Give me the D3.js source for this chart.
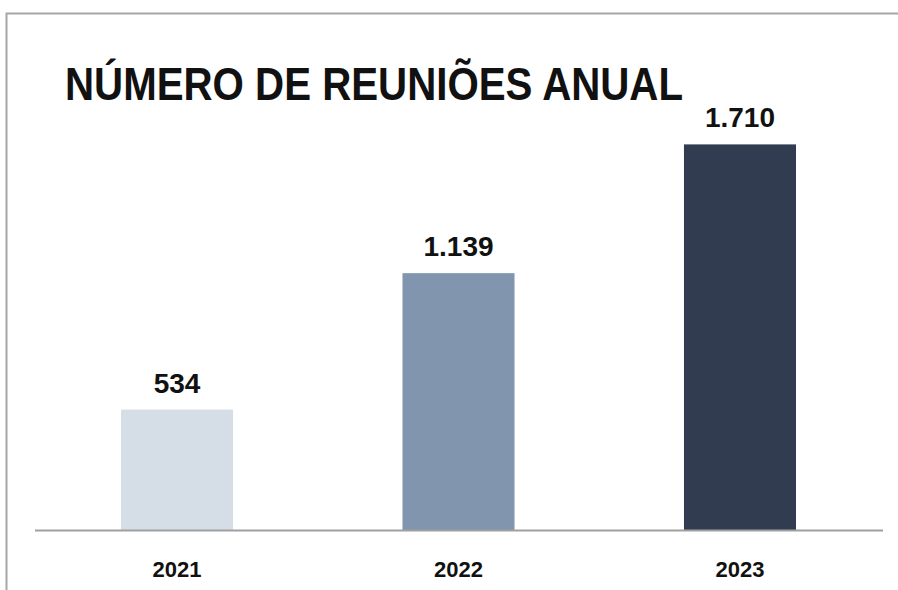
<!DOCTYPE html>
<meta charset="utf-8">
<style>
  body { margin: 0; background: #fff; }
  text { font-family: "Liberation Sans", Arial, sans-serif; font-weight: bold; fill: #111; }
</style>
<body>
<script src="https://d3js.org/d3.v7.min.js"></script>
<script>

  var years = ["2021", "2022", "2023"];
  var meetings = [534, 1139, 1710];
  var labels = ["534", "1.139", "1.710"];
  var colors = ["#d5dde6", "#8295ae", "#313c50"];

  var width = 898,
      height = 590;

  var svg = d3.select("body").append("svg")
      .attr("width", width)
      .attr("height", height);

  // frame (top and left edges visible)
  svg.append("path")
      .attr("d", "M6.5,590V13.5H898")
      .attr("fill", "none")
      .attr("stroke", "#a6a6a6")
      .attr("stroke-width", 2);

  var x = d3.scaleBand()
      .domain(years)
      .range([36, 881])
      .paddingInner(0.602)
      .paddingOuter(0.302);

  var y = d3.scaleLinear()
      .domain([0, 1900])
      .range([530, 530 - 1900 * 0.2255]);

  svg.selectAll("rect.bar")
      .data(meetings)
    .enter().append("rect")
      .attr("class", "bar")
      .attr("x", function(d, i) { return x(years[i]); })
      .attr("width", x.bandwidth())
      .attr("y", function(d) { return y(d); })
      .attr("height", function(d) { return y(0) - y(d); })
      .attr("fill", function(d, i) { return colors[i]; });

  // baseline
  svg.append("line")
      .attr("x1", 35).attr("x2", 883)
      .attr("y1", y(0) + 0.5).attr("y2", y(0) + 0.5)
      .attr("stroke", "#a0a0a0")
      .attr("stroke-width", 2);

  // value labels
  svg.selectAll("text.value")
      .data(meetings)
    .enter().append("text")
      .attr("class", "value")
      .attr("x", function(d, i) { return x(years[i]) + x.bandwidth() / 2; })
      .attr("y", function(d) { return y(d) - 17; })
      .attr("text-anchor", "middle")
      .style("font-size", "28px")
      .text(function(d, i) { return labels[i]; });

  // year labels
  svg.selectAll("text.year")
      .data(years)
    .enter().append("text")
      .attr("class", "year")
      .attr("x", function(d) { return x(d) + x.bandwidth() / 2; })
      .attr("y", 577)
      .attr("text-anchor", "middle")
      .style("font-size", "22px")
      .text(function(d) { return d; });

  svg.append("text")
      .attr("x", 65)
      .attr("y", 100)
      .attr("textLength", 618)
      .attr("lengthAdjust", "spacingAndGlyphs")
      .style("font-size", "47px")
      .text("NÚMERO DE REUNIÕES ANUAL");

</script>
</body>
